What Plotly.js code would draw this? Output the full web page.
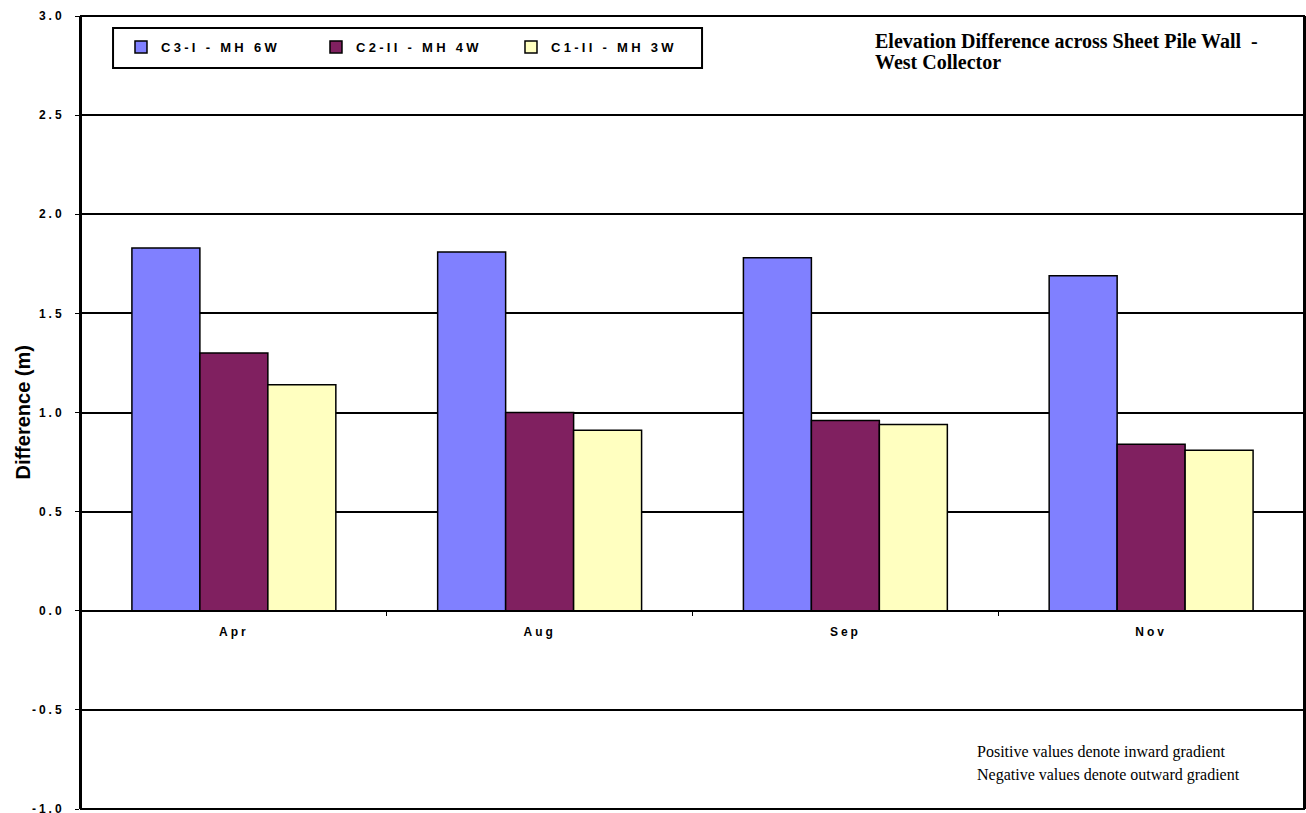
<!DOCTYPE html>
<html>
<head>
<meta charset="utf-8">
<script src="https://cdn.plot.ly/plotly-3.0.1.min.js"></script>
<style>
html, body { margin: 0; padding: 0; background: #fff; }
#chart { width: 1306px; height: 813px; }
.ytick text, .xtick text { letter-spacing: 3px; }
.legendtext { letter-spacing: 3.3px; }
</style>
</head>
<body>
<div id="chart"></div>
<script>
const months = ["Apr", "Aug", "Sep", "Nov"];
const seriesNames = ["C3-I - MH 6W", "C2-II - MH 4W", "C1-II - MH 3W"];
const c3Values = [1.83, 1.81, 1.78, 1.69];
const c2Values = [1.30, 1.00, 0.96, 0.84];
const c1Values = [1.14, 0.91, 0.94, 0.81];
const seriesColors = ["#8080FF", "#802060", "#FFFFC0"];
const yTickValues = [-1, -0.5, 0, 0.5, 1, 1.5, 2, 2.5, 3];
const yTickLabels = ["-1.0", "-0.5", "0.0", "0.5", "1.0", "1.5", "2.0", "2.5", "3.0"];
const titleLines = ["Elevation Difference across Sheet Pile Wall  -", "West Collector"];
const noteLines = ["Positive values denote inward gradient", "Negative values denote outward gradient"];
const yTitle = "Difference (m)";

const allValues = [c3Values, c2Values, c1Values];
const traces = allValues.map((vals, i) => ({
  type: "bar",
  x: months,
  y: vals,
  name: seriesNames[i],
  marker: { color: seriesColors[i], line: { color: "#000", width: 1.5 } },
  hoverinfo: "x+y+name"
}));

const arial = "Arial, Liberation Sans, sans-serif";
const times = "Times New Roman, Liberation Serif, serif";

const layout = {
  width: 1306,
  height: 813,
  margin: { l: 81, r: 2, t: 16, b: 4 },
  paper_bgcolor: "#fff",
  plot_bgcolor: "#fff",
  barmode: "group",
  bargap: 0.333,
  bargroupgap: 0,
  showlegend: true,
  legend: {
    orientation: "h",
    x: 0.0327, y: 0.961, xanchor: "left", yanchor: "middle",
    bgcolor: "rgba(0,0,0,0)",
    borderwidth: 0,
    entrywidth: 150,
    font: { family: arial, size: 13, color: "#000", weight: "bold" },
    itemclick: false
  },
  xaxis: {
    type: "category",
    anchor: "free",
    position: 0.25,
    showline: true,
    linecolor: "#000",
    linewidth: 1.5,
    ticks: "outside",
    tickson: "boundaries",
    ticklen: 4,
    tickcolor: "#000",
    showgrid: false,
    ticklabelstandoff: 10,
    tickfont: { family: arial, size: 12, color: "#000", weight: "bold" },
    fixedrange: true
  },
  yaxis: {
    range: [-1, 3],
    tickmode: "array",
    tickvals: yTickValues,
    ticktext: yTickLabels,
    showline: true,
    mirror: true,
    linecolor: "#000",
    linewidth: 2,
    ticks: "outside",
    ticklen: 4,
    tickcolor: "#000",
    showgrid: true,
    gridcolor: "#000",
    gridwidth: 1.5,
    zeroline: true,
    zerolinecolor: "#000",
    zerolinewidth: 1.5,
    ticklabeloverflow: "allow",
    ticklabelstandoff: 8,
    tickfont: { family: arial, size: 12, color: "#000", weight: "bold" },
    fixedrange: true
  },
  shapes: [
    { type: "rect", xref: "paper", yref: "paper", x0: 0, x1: 1, y0: 0, y1: 1,
      line: { color: "#000", width: 2 }, fillcolor: "rgba(0,0,0,0)", layer: "above" },
    { type: "rect", xref: "paper", yref: "paper", x0: 0.0262, x1: 0.5078, y0: 0.9344, y1: 0.9849,
      line: { color: "#000", width: 2 }, fillcolor: "#fff", layer: "above" }
  ],
  annotations: [
    {
      xref: "paper", yref: "paper", x: -0.0482, y: 0.5, xanchor: "center", yanchor: "middle",
      text: yTitle, textangle: -90, showarrow: false,
      font: { family: arial, size: 20, color: "#000", weight: "bold" }
    },
    {
      xref: "paper", yref: "paper", x: 0.6476, y: 0.9685, xanchor: "left", yanchor: "middle",
      text: titleLines[0], align: "left", showarrow: false,
      font: { family: times, size: 20, color: "#000", weight: "bold" }
    },
    {
      xref: "paper", yref: "paper", x: 0.6476, y: 0.942, xanchor: "left", yanchor: "middle",
      text: titleLines[1], align: "left", showarrow: false,
      font: { family: times, size: 20, color: "#000", weight: "bold" }
    },
    {
      xref: "paper", yref: "paper", x: 0.731, y: 0.0719, xanchor: "left", yanchor: "middle",
      text: noteLines[0], align: "left", showarrow: false,
      font: { family: times, size: 16, color: "#000" }
    },
    {
      xref: "paper", yref: "paper", x: 0.731, y: 0.0429, xanchor: "left", yanchor: "middle",
      text: noteLines[1], align: "left", showarrow: false,
      font: { family: times, size: 16, color: "#000" }
    }
  ]
};

Plotly.newPlot("chart", traces, layout, { displayModeBar: false });
</script>
</body>
</html>
